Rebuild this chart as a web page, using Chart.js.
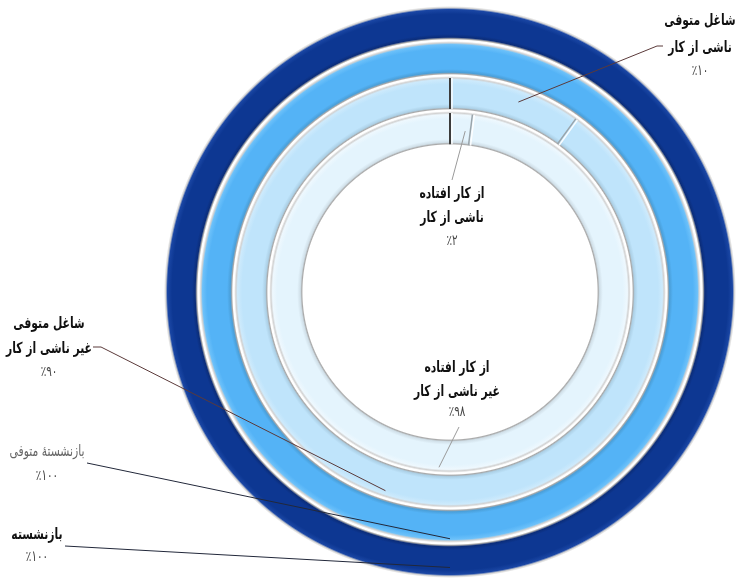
<!doctype html>
<html>
<head>
    <meta charset="utf-8">
    <title>doughnut</title>
    <script src="https://cdn.jsdelivr.net/npm/chart.js@4.4.1/dist/chart.umd.min.js"></script>
    <style>
        html, body { margin: 0; padding: 0; background: #ffffff; }
        #wrap { width: 736px; height: 585px; position: relative; }
    </style>
</head>
<body>
    <div id="wrap">
        <canvas id="canvas" width="736" height="585"></canvas>
    </div>
    <script>
        // rings, outer to inner
        var ringNames = ['بازنشسته', 'بازنشستهٔ متوفی', 'شاغل متوفی', 'از کار افتاده'];
        var causeLabels = ['ناشی از کار', 'غیر ناشی از کار'];
        var retiredShare = [100];
        var deceasedRetiredShare = [100];
        var deceasedEmployedShare = [10, 90];
        var disabledShare = [2, 98];

        // colours per ring: base, inner shadow, outer light
        var ringColors = [
            ['#0d3792', '#0b2d7a', '#1a46a4'],
            ['#54b3f6', '#4a9fd9', '#6cc1fa'],
            ['#bfe4fb', '#acd0e6', '#cdeafc'],
            ['#e4f4fd', '#d0dfe8', '#eef8fe']
        ];

        var labelFont = '"DejaVu Sans Condensed", "DejaVu Sans"';

        function faDigits(n) {
            return String(n).replace(/[0-9]/g, function (d) { return '۰۱۲۳۴۵۶۷۸۹'[d]; });
        }
        function pct(n) { return '٪' + faDigits(n); }

        // label layout: which ring / slice, text lines, where the text sits, leader line
        var labelLayout = [
            { ds: 2, idx: 0, lines: [ringNames[2], causeLabels[0], pct(deceasedEmployedShare[0])],
              x: 700, ys: [21, 48, 71], tick: [[663, 46], [657, 46]], at: 0.55, rad: 0.6, line: '#5b3a3a', color: '#111' },
            { ds: 3, idx: 0, lines: [ringNames[3], causeLabels[0], pct(disabledShare[0])],
              x: 452, ys: [194, 218, 241], tick: [[452, 180]], at: 0.75, rad: 0.45, line: '#9a9a9a', color: '#111' },
            { ds: 2, idx: 1, lines: [ringNames[2], causeLabels[1], pct(deceasedEmployedShare[1])],
              x: 49, ys: [324, 349, 372], tick: [[93, 347], [101, 347]], at: 0.5, rad: 0.8, line: '#5b3a3a', color: '#111' },
            { ds: 3, idx: 1, lines: [ringNames[3], causeLabels[1], pct(disabledShare[1])],
              x: 457, ys: [368, 392, 412], tick: [[459, 427]], at: 0.5, rad: 0.85, line: '#9a9a9a', color: '#111' },
            { ds: 1, idx: 0, lines: [ringNames[1], pct(deceasedRetiredShare[0])],
              x: 47, ys: [452, 476], tick: [[87, 463]], at: 0.5, rad: 0.88, line: '#22283a', color: '#666', light: true },
            { ds: 0, idx: 0, lines: [ringNames[0], pct(retiredShare[0])],
              x: 37, ys: [535, 557], tick: [[65, 546]], at: 0.5, rad: 0.7, line: '#22283a', color: '#111' }
        ];

        function ringFill(context) {
            var c = ringColors[context.datasetIndex];
            var chart = context.chart;
            var area = chart.chartArea;
            var ctrl = chart.getDatasetMeta(context.datasetIndex).controller;
            if (!area || !ctrl || !ctrl.outerRadius) return c[0];
            var r0 = ctrl.innerRadius, r1 = ctrl.outerRadius, t = r1 - r0;
            var cx = (area.left + area.right) / 2, cy = (area.top + area.bottom) / 2;
            var g = chart.ctx.createRadialGradient(cx, cy, r0, cx, cy, r1);
            function f(px) { return Math.min(1, Math.max(0, px / t)); }
            g.addColorStop(0, '#ffffff');
            g.addColorStop(f(1.2), '#ffffff');
            g.addColorStop(f(2.3), '#a8a8a8');
            g.addColorStop(f(3.8), c[1]);
            g.addColorStop(f(7), c[0]);
            g.addColorStop(f(t - 8), c[0]);
            g.addColorStop(f(t - 3.5), c[2]);
            g.addColorStop(f(t - 1.8), '#d2d2d2');
            g.addColorStop(1, '#ffffff');
            return g;
        }

        var dividerPlugin = {
            id: 'dividers',
            afterDatasetsDraw: function (chart) {
                var ctx = chart.ctx;
                chart.data.datasets.forEach(function (ds, i) {
                    if (ds.data.length < 2) return;
                    var meta = chart.getDatasetMeta(i);
                    meta.data.forEach(function (arc, j) {
                        var p = arc.getProps(['x', 'y', 'startAngle', 'innerRadius', 'outerRadius']);
                        var a = p.startAngle;
                        var ca = Math.cos(a), sa = Math.sin(a);
                        var rA = p.innerRadius + 2, rB = p.outerRadius - 2;
                        ctx.save();
                        ctx.lineWidth = j === 0 ? 2 : 1.5;
                        ctx.strokeStyle = j === 0 ? '#3c3c3c' : '#9aa4aa';
                        ctx.beginPath();
                        ctx.moveTo(p.x + ca * rA, p.y + sa * rA);
                        ctx.lineTo(p.x + ca * rB, p.y + sa * rB);
                        ctx.stroke();
                        ctx.strokeStyle = 'rgba(255,255,255,0.9)';
                        ctx.lineWidth = 1.5;
                        var ox = -sa * 2, oy = ca * 2;
                        ctx.beginPath();
                        ctx.moveTo(p.x + ca * rA + ox, p.y + sa * rA + oy);
                        ctx.lineTo(p.x + ca * rB + ox, p.y + sa * rB + oy);
                        ctx.stroke();
                        ctx.restore();
                    });
                });
            }
        };

        var labelPlugin = {
            id: 'ringLabels',
            afterDraw: function (chart) {
                var ctx = chart.ctx;
                labelLayout.forEach(function (lb) {
                    var arc = chart.getDatasetMeta(lb.ds).data[lb.idx];
                    var p = arc.getProps(['x', 'y', 'startAngle', 'endAngle', 'innerRadius', 'outerRadius']);
                    var ang = p.startAngle + (p.endAngle - p.startAngle) * lb.at;
                    var r = p.innerRadius + (p.outerRadius - p.innerRadius) * lb.rad;
                    var ax = p.x + Math.cos(ang) * r, ay = p.y + Math.sin(ang) * r;
                    ctx.save();
                    ctx.strokeStyle = lb.line;
                    ctx.lineWidth = 1;
                    ctx.beginPath();
                    ctx.moveTo(lb.tick[0][0], lb.tick[0][1]);
                    for (var k = 1; k < lb.tick.length; k++) ctx.lineTo(lb.tick[k][0], lb.tick[k][1]);
                    ctx.lineTo(ax, ay);
                    ctx.stroke();
                    ctx.textAlign = 'center';
                    ctx.textBaseline = 'middle';
                    ctx.direction = 'rtl';
                    lb.lines.forEach(function (s, n) {
                        var isPct = n === lb.lines.length - 1;
                        ctx.save();
                        ctx.translate(lb.x, lb.ys[n]);
                        ctx.scale(0.96, 1.22);
                        ctx.fillStyle = isPct ? '#444' : lb.color;
                        ctx.font = (lb.light || isPct ? '' : 'bold ') + (isPct ? '12px ' : '12.5px ') + labelFont;
                        ctx.fillText(s, 0, 0);
                        ctx.restore();
                    });
                    ctx.restore();
                });
            }
        };

        var ctx = document.getElementById('canvas').getContext('2d');
        var chart = new Chart(ctx, {
            type: 'doughnut',
            data: {
                labels: causeLabels,
                datasets: [
                    { label: ringNames[0], data: retiredShare },
                    { label: ringNames[1], data: deceasedRetiredShare },
                    { label: ringNames[2], data: deceasedEmployedShare },
                    { label: ringNames[3], data: disabledShare }
                ]
            },
            options: {
                responsive: false,
                animation: false,
                cutout: '51%',
                layout: { padding: { left: 164, right: 0, top: 6, bottom: 7 } },
                elements: {
                    arc: { backgroundColor: ringFill, borderWidth: 0, offset: 0, hoverOffset: 0 }
                },
                plugins: {
                    legend: { display: false },
                    tooltip: { enabled: false },
                    title: { display: false }
                }
            },
            plugins: [dividerPlugin, labelPlugin]
        });
    </script>
</body>
</html>
